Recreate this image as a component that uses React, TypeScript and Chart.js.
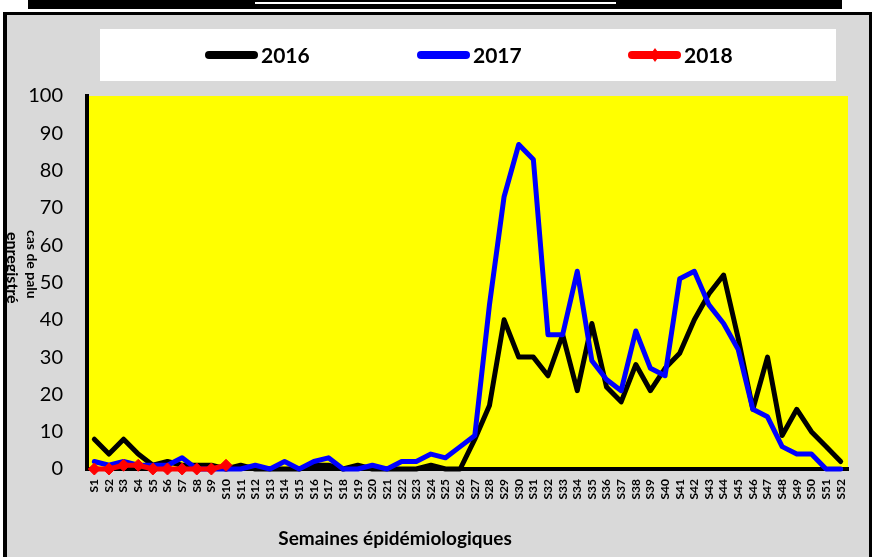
import React, { useEffect, useRef } from 'react';
import { Chart, registerables } from 'chart.js';

Chart.register(...registerables);

const weekLabels = [
  'S1', 'S2', 'S3', 'S4', 'S5', 'S6', 'S7', 'S8', 'S9', 'S10',
  'S11', 'S12', 'S13', 'S14', 'S15', 'S16', 'S17', 'S18', 'S19', 'S20',
  'S21', 'S22', 'S23', 'S24', 'S25', 'S26', 'S27', 'S28', 'S29', 'S30',
  'S31', 'S32', 'S33', 'S34', 'S35', 'S36', 'S37', 'S38', 'S39', 'S40',
  'S41', 'S42', 'S43', 'S44', 'S45', 'S46', 'S47', 'S48', 'S49', 'S50',
  'S51', 'S52',
];

const cases2016 = [
  8, 4, 8, 4, 1, 2, 1, 1, 1, 0,
  1, 0, 0, 0, 0, 1, 1, 0, 1, 0,
  0, 0, 0, 1, 0, 0, 8, 17, 40, 30,
  30, 25, 36, 21, 39, 22, 18, 28, 21, 27,
  31, 40, 47, 52, 35, 16, 30, 9, 16, 10,
  6, 2,
];

const cases2017 = [
  2, 1, 2, 1, 1, 1, 3, 0, 0, 0,
  0, 1, 0, 2, 0, 2, 3, 0, 0, 1,
  0, 2, 2, 4, 3, 6, 9, 44, 73, 87,
  83, 36, 36, 53, 29, 24, 21, 37, 27, 25,
  51, 53, 44, 39, 32, 16, 14, 6, 4, 4,
  0, 0,
];

const cases2018 = [0, 0, 1, 1, 0, 0, 0, 0, 0, 1];

const seriesNames = ['2016', '2017', '2018'];
const seriesColors = ['#000000', '#0000ff', '#ff0000'];

const yMin = 0;
const yMax = 100;
const yStep = 10;

const yTitleLines = ['cas de palu', 'enregistré'];
const xTitle = 'Semaines épidémiologiques';

const FONT = 'Lato';

const decorPlugin = {
  id: 'decor',
  beforeDraw(chart: any) {
    const { ctx, chartArea } = chart;
    ctx.save();
    ctx.fillStyle = '#ffffff';
    ctx.fillRect(0, 0, chart.width, chart.height);
    // top black bar
    ctx.fillStyle = '#000000';
    ctx.fillRect(28, 0, 814, 9);
    ctx.fillStyle = '#ffffff';
    ctx.fillRect(255, 2, 361, 2);
    // outer frame
    ctx.fillStyle = '#000000';
    ctx.fillRect(3, 12, 869, 560);
    ctx.fillStyle = '#d9d9d9';
    ctx.fillRect(7, 15, 862, 560);
    // legend box
    ctx.fillStyle = '#ffffff';
    ctx.fillRect(100, 29, 736, 52);
    // plot area
    ctx.fillStyle = '#ffff00';
    ctx.fillRect(chartArea.left, chartArea.top, chartArea.right - chartArea.left, chartArea.bottom - chartArea.top);
    ctx.restore();
  },
  afterDraw(chart: any) {
    const { ctx } = chart;
    ctx.save();
    // legend
    const starts = [205, 417, 628];
    const ly = 55;
    chart.data.datasets.forEach((ds: any, i: number) => {
      const x0 = starts[i];
      ctx.strokeStyle = ds.borderColor;
      ctx.lineWidth = 8;
      ctx.lineCap = 'round';
      ctx.beginPath();
      ctx.moveTo(x0 + 4, ly);
      ctx.lineTo(x0 + 49, ly);
      ctx.stroke();
      if (ds.pointRadius > 0) {
        ctx.fillStyle = ds.borderColor;
        ctx.beginPath();
        ctx.moveTo(x0 + 27, ly - 7);
        ctx.lineTo(x0 + 32, ly);
        ctx.lineTo(x0 + 27, ly + 7);
        ctx.lineTo(x0 + 22, ly);
        ctx.closePath();
        ctx.fill();
      }
      ctx.fillStyle = '#000000';
      ctx.font = `bold 21px ${FONT}`;
      ctx.textAlign = 'left';
      ctx.textBaseline = 'middle';
      ctx.fillText(ds.label, x0 + 56, ly + 1);
    });
    // y title (rotated clockwise)
    ctx.fillStyle = '#000000';
    ctx.textAlign = 'left';
    ctx.textBaseline = 'middle';
    ctx.save();
    ctx.translate(32, 230);
    ctx.rotate(Math.PI / 2);
    ctx.font = `bold 14px ${FONT}`;
    ctx.fillText(yTitleLines[0], 0, 0);
    ctx.restore();
    ctx.save();
    ctx.translate(12, 232);
    ctx.rotate(Math.PI / 2);
    ctx.font = `bold 16px ${FONT}`;
    ctx.fillText(yTitleLines[1], 0, 0);
    ctx.restore();
    // left frame border over title
    ctx.fillStyle = '#000000';
    ctx.fillRect(3, 12, 4, 560);
    // x title
    ctx.font = `bold 19px ${FONT}`;
    ctx.textAlign = 'center';
    ctx.fillText(xTitle, 395, 539);
    ctx.restore();
  },
};

export default function App() {
  const ref = useRef<HTMLCanvasElement>(null);
  useEffect(() => {
    document.body.style.margin = '0';
    const chart = new Chart(ref.current as HTMLCanvasElement, {
      type: 'line',
      data: {
        labels: weekLabels,
        datasets: [
          {
            label: seriesNames[0],
            data: cases2016,
            borderColor: seriesColors[0],
            backgroundColor: seriesColors[0],
            borderWidth: 5,
            pointRadius: 0,
            tension: 0,
            borderJoinStyle: 'round',
            borderCapStyle: 'round',
            clip: false,
            order: 3,
          },
          {
            label: seriesNames[1],
            data: cases2017,
            borderColor: seriesColors[1],
            backgroundColor: seriesColors[1],
            borderWidth: 5,
            pointRadius: 0,
            tension: 0,
            borderJoinStyle: 'round',
            borderCapStyle: 'round',
            clip: false,
            order: 2,
          },
          {
            label: seriesNames[2],
            data: cases2018,
            borderColor: seriesColors[2],
            backgroundColor: seriesColors[2],
            borderWidth: 5,
            pointRadius: 6,
            pointStyle: 'rectRot',
            pointBackgroundColor: seriesColors[2],
            pointBorderColor: seriesColors[2],
            pointBorderWidth: 1,
            tension: 0,
            borderJoinStyle: 'round',
            clip: false,
            order: 1,
          },
        ],
      } as any,
      options: {
        responsive: false,
        animation: false,
        devicePixelRatio: 1,
        layout: { padding: { top: 96, right: 24, bottom: 0, left: 0 } },
        plugins: {
          legend: { display: false },
          tooltip: { enabled: false },
          title: { display: false },
        },
        scales: {
          x: {
            type: 'category',
            offset: true,
            grid: { display: false, drawTicks: false },
            border: { display: true, color: '#000000', width: 4 },
            ticks: {
              autoSkip: false,
              maxRotation: 90,
              minRotation: 90,
              color: '#000000',
              padding: 10,
              font: { family: FONT, size: 12, weight: 'bold' },
            },
            afterFit: (s: any) => {
              s.height = 88;
            },
          },
          y: {
            min: yMin,
            max: yMax,
            grid: { display: false, drawTicks: false },
            border: { display: true, color: '#000000', width: 4 },
            ticks: {
              stepSize: yStep,
              color: '#000000',
              padding: 24,
              font: { family: FONT, size: 20 },
            },
            afterFit: (s: any) => {
              s.width = 87;
            },
          },
        },
      } as any,
      plugins: [decorPlugin],
    });
    return () => chart.destroy();
  }, []);
  return (
    <div style={{ position: 'absolute', left: 0, top: 0, width: 872, height: 557 }}>
      <canvas ref={ref} width={872} height={557} style={{ display: 'block' }} />
    </div>
  );
}
